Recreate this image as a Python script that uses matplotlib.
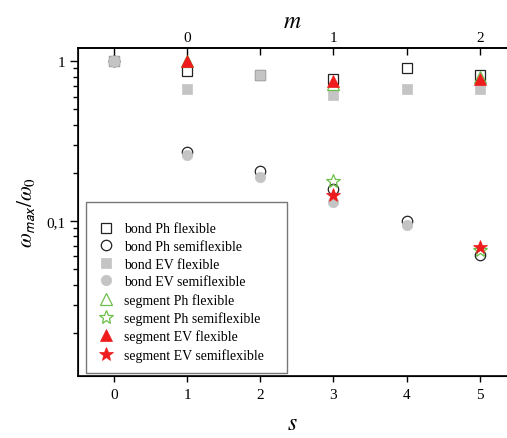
import numpy as np
import matplotlib
matplotlib.use("Agg")
import matplotlib.pyplot as plt
from matplotlib.lines import Line2D
from matplotlib.patches import Rectangle
from matplotlib.ticker import FixedLocator, FuncFormatter, LogLocator, NullFormatter

plt.rcParams["font.family"] = ["Liberation Serif", "DejaVu Serif"]
plt.rcParams["mathtext.fontset"] = "stix"

# bond model, s = 0..5
s_bond = [0, 1, 2, 3, 4, 5]
bond_ph_flex = [1.0, 0.86, 0.82, 0.77, 0.90, 0.82]
bond_ph_semi = [1.0, 0.27, 0.206, 0.158, 0.100, 0.061]
bond_ev_flex = [1.0, 0.668, 0.82, 0.61, 0.668, 0.668]
s_bond_ev_semi = [0, 1, 2, 3, 4]
bond_ev_semi = [1.0, 0.259, 0.188, 0.132, 0.094]

# segment model, odd s only (m = (s-1)/2)
s_seg = [1, 3, 5]
seg_ph_flex = [1.0, 0.72, 0.79]
seg_ev_flex = [1.0, 0.75, 0.77]
s_seg_semi = [3, 5]
seg_ph_semi = [0.178, 0.066]
seg_ev_semi = [0.145, 0.069]

x_ticks = [0, 1, 2, 3, 4, 5]
m_tick_labels = ["", "0", "", "1", "", "2"]

GRAY = "#c4c4c4"
RED = "#ee1c1c"
GREEN = "#6cbf4a"

fig = plt.figure(figsize=(5.07, 4.39), dpi=100)
ax = fig.add_axes([78 / 507, 1 - 377 / 439, 1 - 78 / 507, (377 - 49) / 439])

series = [
    (s_bond, bond_ph_flex, dict(marker="s", ms=6.5, mfc="white", mec="#222222", mew=0.9),
     "bond Ph flexible"),
    (s_bond, bond_ph_semi, dict(marker="o", ms=7.5, mfc="none", mec="#222222", mew=0.9),
     "bond Ph semiflexible"),
    (s_bond, bond_ev_flex, dict(marker="s", ms=6.5, mfc=GRAY, mec=GRAY, mew=0.5),
     "bond EV flexible"),
    (s_bond_ev_semi, bond_ev_semi, dict(marker="o", ms=7.5, mfc=GRAY, mec=GRAY, mew=0.5),
     "bond EV semiflexible"),
    (s_seg, seg_ph_flex, dict(marker="^", ms=8, mfc="none", mec=GREEN, mew=0.9),
     "segment Ph flexible"),
    (s_seg_semi, seg_ph_semi, dict(marker="*", ms=10, mfc="none", mec=GREEN, mew=0.9),
     "segment Ph semiflexible"),
    (s_seg, seg_ev_flex, dict(marker="^", ms=8, mfc=RED, mec=RED, mew=0.5),
     "segment EV flexible"),
    (s_seg_semi, seg_ev_semi, dict(marker="*", ms=10, mfc=RED, mec=RED, mew=0.5),
     "segment EV semiflexible"),
]

handles = []
for xs, ys, style, label in series:
    ax.plot(xs, ys, linestyle="none", **style)
    handles.append(Line2D([], [], linestyle="none", label=label, **style))

ax.set_yscale("log")
ax.set_xlim(-0.49, 5.37)
ax.set_ylim(0.01074, 1.206)

ax.set_xticks(x_ticks)
ax.set_xticklabels([str(v) for v in x_ticks])
ax.yaxis.set_major_locator(FixedLocator([0.01, 0.1, 1.0]))
ax.yaxis.set_major_formatter(FuncFormatter(lambda v, p: ("%g" % v).replace(".", ",")))
ax.yaxis.set_minor_locator(LogLocator(base=10, subs=np.arange(2, 10)))
ax.yaxis.set_minor_formatter(NullFormatter())

ax.tick_params(axis="x", which="major", direction="out", length=4.5, width=1.0,
               labelsize=11, pad=4, top=False)
ax.tick_params(axis="y", which="major", direction="out", length=6, width=1.0,
               labelsize=11, pad=3, right=False)
ax.tick_params(axis="y", which="minor", direction="out", length=3.5, width=1.0, right=False)

for side in ("left", "bottom", "top"):
    ax.spines[side].set_linewidth(1.2)
ax.spines["right"].set_visible(False)

ax.set_xlabel(r"$s$", fontsize=17, labelpad=9)
ax.set_ylabel(r"$\omega_{\mathsf{max}}/\omega_0$", fontsize=15.5, labelpad=7)

# top axis: m = (s - 1) / 2
top = ax.twiny()
top.set_xlim(ax.get_xlim())
top.set_xticks(x_ticks)
top.set_xticklabels(m_tick_labels)
top.tick_params(axis="x", direction="in", length=5, width=1.0, labelsize=11, pad=3)
top.spines["right"].set_visible(False)
top.spines["top"].set_linewidth(1.2)
top.set_xlabel(r"$m$", fontsize=17, labelpad=3)

# legend with its own frame
ax.add_patch(Rectangle((0.0186, 0.0091), 0.4685, 0.521, transform=ax.transAxes,
                       fill=False, edgecolor="#777777", linewidth=1.0, zorder=5))
ax.legend(handles=handles, loc="upper left", bbox_to_anchor=(0.040, 0.468),
          frameon=False, borderpad=0, borderaxespad=0, handlelength=1.6,
          handletextpad=0.45, labelspacing=0.33, fontsize=10)

fig.savefig("out.png", dpi=100)
